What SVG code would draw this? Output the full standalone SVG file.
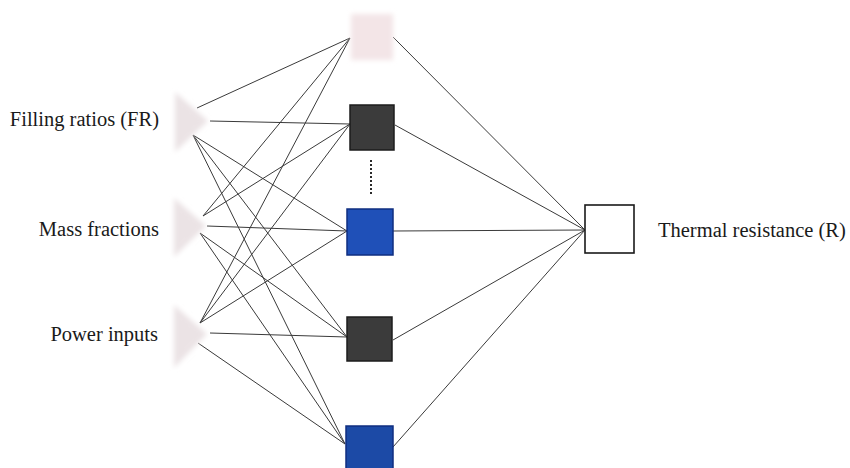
<svg xmlns="http://www.w3.org/2000/svg" width="850" height="468" viewBox="0 0 850 468">
<defs>
<filter id="blur" x="-30%" y="-30%" width="160%" height="160%"><feGaussianBlur stdDeviation="2.5"/></filter>
<style>
.lbl{font-family:"Liberation Serif","Times New Roman","DejaVu Serif",serif;font-size:20.5px;fill:#1a1a1a}
.in{fill:#ebe3e5;filter:url(#blur)}
.dark{fill:#3b3b3b;stroke:#1c1c1c;stroke-width:1.5}
.blue{fill:#1f50b8;stroke:#0f2e80;stroke-width:1.5}
.out{fill:#ffffff;stroke:#1a1a1a;stroke-width:1.6}
.c{stroke:#3a3a3a;stroke-width:1;fill:none}
</style>
</defs>
<rect width="850" height="468" fill="#ffffff"/>
<g id="connectors">
<line class="c" x1="197" y1="108" x2="350" y2="38"/>
<line class="c" x1="210" y1="121" x2="350" y2="124"/>
<line class="c" x1="193" y1="135" x2="347" y2="231"/>
<line class="c" x1="193" y1="135" x2="347" y2="337"/>
<line class="c" x1="193" y1="135" x2="345" y2="444"/>
<line class="c" x1="203" y1="216" x2="350" y2="38"/>
<line class="c" x1="203" y1="216" x2="350" y2="124"/>
<line class="c" x1="207" y1="226" x2="347" y2="231"/>
<line class="c" x1="200" y1="233" x2="347" y2="337"/>
<line class="c" x1="200" y1="233" x2="345" y2="444"/>
<line class="c" x1="200" y1="323" x2="350" y2="38"/>
<line class="c" x1="200" y1="323" x2="350" y2="124"/>
<line class="c" x1="200" y1="323" x2="347" y2="231"/>
<line class="c" x1="210" y1="333" x2="347" y2="337"/>
<line class="c" x1="198" y1="343" x2="345" y2="444"/>
<line class="c" x1="393" y1="37" x2="585" y2="230"/>
<line class="c" x1="395" y1="125" x2="585" y2="230"/>
<line class="c" x1="393" y1="231" x2="585" y2="230"/>
<line class="c" x1="393" y1="340" x2="585" y2="230"/>
<line class="c" x1="393" y1="447" x2="585" y2="230"/>
<line x1="371" y1="160" x2="371" y2="194" stroke="#2a2a2a" stroke-width="2" stroke-dasharray="2,2"/>
</g>
<g id="input-fr">
<polygon class="in" points="175,92 208,121 175,152"/>
<text class="lbl" font-family="Liberation Serif, serif" x="159" y="126" text-anchor="end">Filling ratios (FR)</text>
</g>
<g id="input-mf">
<polygon class="in" points="174,198 206,226 174,257"/>
<text class="lbl" font-family="Liberation Serif, serif" x="159" y="236" text-anchor="end">Mass fractions</text>
</g>
<g id="input-pi">
<polygon class="in" points="174,305 207,334 174,368"/>
<text class="lbl" font-family="Liberation Serif, serif" x="158" y="341" text-anchor="end">Power inputs</text>
</g>
<g id="hidden-1">
<rect x="351" y="14" width="42" height="46" fill="#f3e5e7" filter="url(#blur)"/>
</g>
<g id="hidden-2">
<rect class="dark" x="350" y="105" width="44" height="45"/>
</g>
<g id="hidden-3">
<rect class="blue" x="347" y="209" width="46" height="46"/>
</g>
<g id="hidden-4">
<rect class="dark" x="347" y="317" width="45" height="44"/>
</g>
<g id="hidden-5">
<rect class="blue" x="346" y="426" width="47" height="46" style="fill:#1c4aa6"/>
</g>
<g id="output">
<rect class="out" x="585" y="205" width="49" height="48"/>
<text class="lbl" font-family="Liberation Serif, serif" x="658" y="237">Thermal resistance (R)</text>
</g>
</svg>
